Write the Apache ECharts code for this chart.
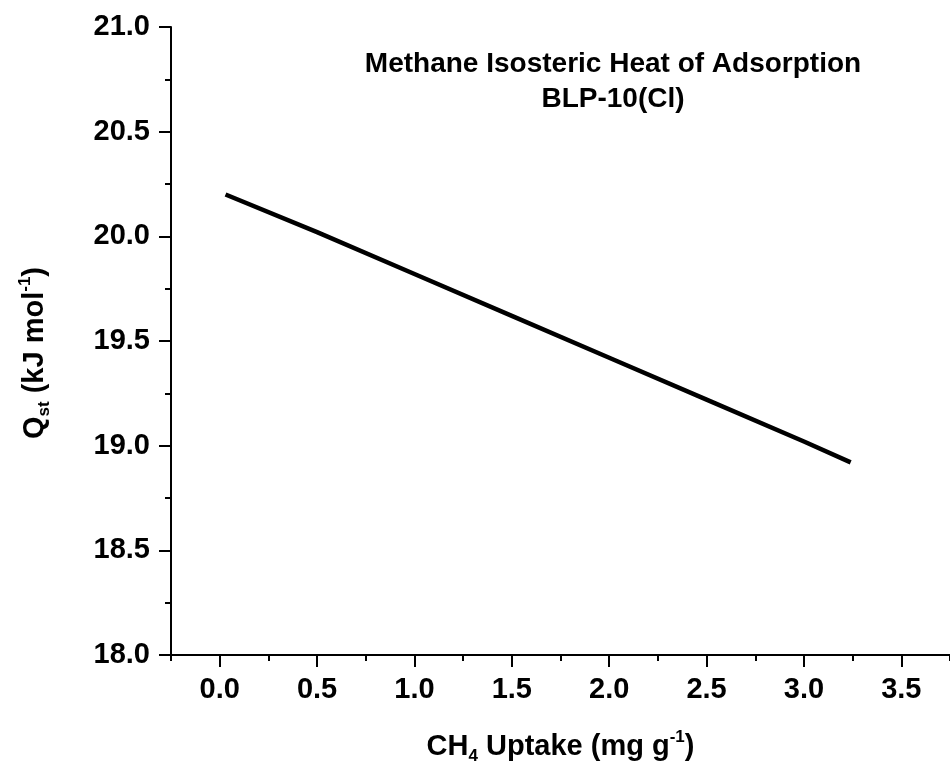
<!DOCTYPE html>
<html>
<head>
<meta charset="utf-8">
<script src="https://cdn.jsdelivr.net/npm/echarts@6/dist/echarts.min.js"></script>
<style>html,body{margin:0;padding:0;background:#fff}#c{width:950px;height:770px}</style>
</head>
<body>
<div id="c"></div>
<script>
// Data
const uptake = [0.03, 0.5, 1.0, 1.5, 2.0, 2.5, 3.0, 3.24];
const qst    = [20.20, 20.02, 19.82, 19.62, 19.42, 19.22, 19.02, 18.92];
const xMajorTicks = [0, 0.5, 1.0, 1.5, 2.0, 2.5, 3.0, 3.5];
const xMinorTicks = [-0.25, 0.25, 0.75, 1.25, 1.75, 2.25, 2.75, 3.25, 3.75];
const titleLines = ['Methane Isosteric Heat of Adsorption', 'BLP-10(Cl)'];

const F = 'Arial, "Liberation Sans", sans-serif';
const gridBox = {left: 171, top: 27, width: 784, height: 628};
const rich = {
  b: {fontSize: 29, fontWeight: 'bold', fontFamily: F, color: '#000', lineHeight: 36},
  sub: {fontSize: 17, fontWeight: 'bold', fontFamily: F, color: '#000', verticalAlign: 'bottom', lineHeight: 2},
  sup: {fontSize: 17, fontWeight: 'bold', fontFamily: F, color: '#000', verticalAlign: 'top', lineHeight: 6}
};

const chart = echarts.init(document.getElementById('c'), null, {renderer: 'canvas'});
chart.setOption({
  backgroundColor: '#fff',
  animation: false,
  title: {
    text: titleLines.join('\n'),
    left: 608, top: 42, textAlign: 'center',
    textStyle: {fontSize: 28, fontWeight: 'bold', fontFamily: F, color: '#000', lineHeight: 35}
  },
  grid: [Object.assign({}, gridBox), Object.assign({}, gridBox)],
  xAxis: [{
    type: 'value', gridIndex: 0, min: -0.25, max: 3.75,
    name: '{b|CH}{sub|4}{b| Uptake (mg g}{sup|-1}{b|)}',
    nameLocation: 'middle', nameGap: 74,
    nameTextStyle: {rich: rich},
    axisLine: {show: true, onZero: false, lineStyle: {color: '#000', width: 2}},
    axisTick: {show: true, inside: false, length: 12, lineStyle: {color: '#000', width: 2}, customValues: xMajorTicks},
    axisLabel: {margin: 20, fontSize: 29, fontWeight: 'bold', fontFamily: F, color: '#000',
      customValues: xMajorTicks, formatter: v => v.toFixed(1)},
    splitLine: {show: false}
  }, {
    type: 'value', gridIndex: 1, min: -0.25, max: 3.75,
    axisLine: {show: false},
    axisTick: {show: true, inside: false, length: 6, lineStyle: {color: '#000', width: 2}, customValues: xMinorTicks},
    axisLabel: {show: false},
    splitLine: {show: false}
  }],
  yAxis: [{
    type: 'value', gridIndex: 0, min: 18, max: 21, interval: 0.5,
    name: '{b|Q}{sub|st}{b| (kJ mol}{sup|-1}{b|)}',
    nameLocation: 'middle', nameGap: 118, nameRotate: 90,
    nameTextStyle: {rich: rich, padding: [0, 24, 0, 0]},
    axisLine: {show: true, onZero: false, lineStyle: {color: '#000', width: 2}},
    axisTick: {show: true, inside: false, length: 12, lineStyle: {color: '#000', width: 2}},
    minorTick: {show: true, splitNumber: 2, length: 6, lineStyle: {color: '#000', width: 2}},
    axisLabel: {margin: 21, fontSize: 29, fontWeight: 'bold', fontFamily: F, color: '#000',
      formatter: v => v.toFixed(1)},
    splitLine: {show: false}
  }, {
    type: 'value', gridIndex: 1, min: 18, max: 21, show: false
  }],
  series: [{
    type: 'line', xAxisIndex: 0, yAxisIndex: 0,
    data: uptake.map((x, i) => [x, qst[i]]),
    showSymbol: false, symbol: 'none',
    lineStyle: {color: '#000', width: 4.5},
    clip: false
  }]
});
</script>
</body>
</html>
